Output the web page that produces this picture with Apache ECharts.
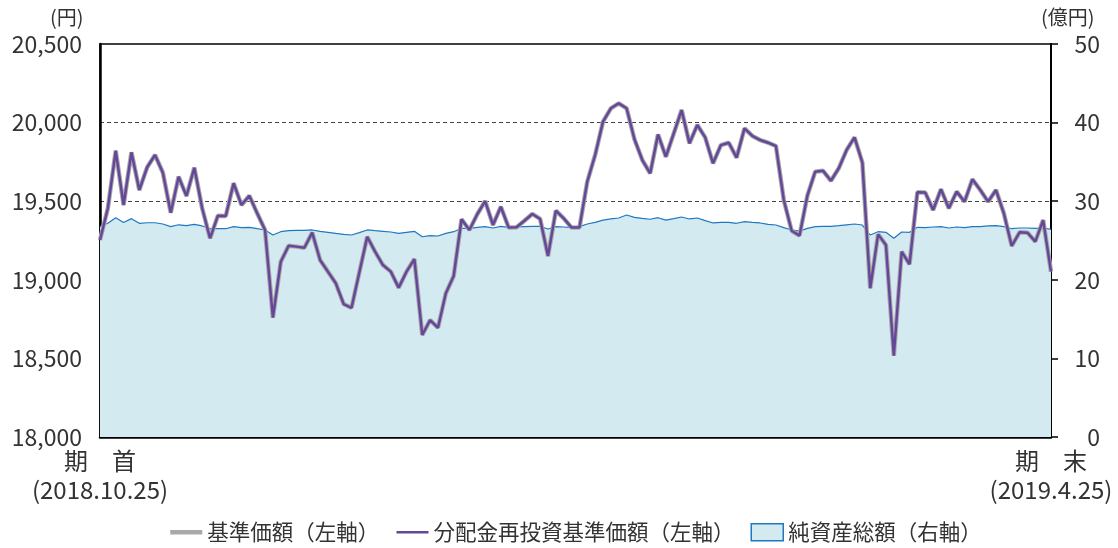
<!DOCTYPE html>
<html>
<head>
<meta charset="utf-8">
<script src="https://cdn.jsdelivr.net/npm/echarts@6/dist/echarts.min.js"></script>
<style>
  html, body { margin: 0; padding: 0; background: #fff; }
  #chart { width: 1118px; height: 548px; }
</style>
</head>
<body>
<div id="chart"></div>
<script>
// 分配金再投資基準価額（円）— 基準価額は分配なしのため同じ値
const navReinvested = [
  19253, 19455, 19821, 19476, 19811, 19571, 19716, 19794, 19681, 19427,
  19656, 19533, 19713, 19455, 19264, 19408, 19406, 19614, 19476, 19535,
  19423, 19317, 18759, 19115, 19217, 19211, 19204, 19300, 19126, 19052,
  18978, 18846, 18822, 19048, 19274, 19179, 19094, 19052, 18950, 19052,
  19132, 18649, 18744, 18695, 18914, 19024, 19385, 19317, 19417, 19501,
  19349, 19465, 19332, 19334, 19376, 19419, 19387, 19151, 19440, 19391,
  19332, 19332, 19625, 19794, 20006, 20091, 20122, 20091, 19894, 19762,
  19677, 19925, 19783, 19931, 20080, 19868, 19985, 19906, 19741, 19857,
  19872, 19777, 19963, 19915, 19889, 19872, 19851, 19508, 19312, 19281,
  19535, 19688, 19693, 19630, 19710, 19826, 19906, 19745, 18946, 19289,
  19221, 18517, 19179, 19099, 19557, 19555, 19444, 19576, 19455, 19561,
  19497, 19639, 19571, 19497, 19571, 19423, 19215, 19302, 19300, 19243,
  19380, 19052
];
const nav = navReinvested.slice();

// 純資産総額（億円）
const netAssets = [
  26.76, 27.19, 27.9, 27.3, 27.78, 27.19, 27.26, 27.26, 27.1, 26.76,
  27.0, 26.9, 27.06, 26.85, 26.5, 26.5, 26.5, 26.76, 26.63, 26.68,
  26.5, 26.34, 25.7, 26.12, 26.25, 26.3, 26.3, 26.34, 26.17, 26.04,
  25.9, 25.79, 25.7, 26.0, 26.34, 26.25, 26.17, 26.08, 25.9, 26.04,
  26.17, 25.48, 25.61, 25.57, 25.9, 26.12, 26.55, 26.55, 26.68, 26.76,
  26.59, 26.8, 26.68, 26.72, 26.76, 26.8, 26.8, 26.46, 26.76, 26.72,
  26.63, 26.76, 27.1, 27.3, 27.6, 27.74, 27.86, 28.24, 27.95, 27.82,
  27.7, 27.9, 27.6, 27.78, 27.99, 27.74, 27.86, 27.52, 27.23, 27.3,
  27.3, 27.19, 27.4, 27.3, 27.23, 27.06, 26.97, 26.63, 26.34, 26.2,
  26.55, 26.76, 26.8, 26.8, 26.89, 27.0, 27.1, 26.97, 25.7, 26.12,
  26.04, 25.28, 26.08, 26.04, 26.68, 26.63, 26.72, 26.76, 26.59, 26.72,
  26.63, 26.76, 26.76, 26.85, 26.89, 26.76, 26.5, 26.59, 26.59, 26.55,
  26.59, 26.42
];

const days = navReinvested.map((v, i) => i);
const startLabel = '期　首\n(2018.10.25)';
const endLabel = '期　末\n(2019.4.25)';
const seriesNames = ['基準価額（左軸）', '分配金再投資基準価額（左軸）', '純資産総額（右軸）'];

const font = '"Noto Sans CJK JP", "Noto Sans", sans-serif';
const textColor = '#333';
const grayColor = '#a9a9a9';
const purpleColor = '#65479a';
// 凡例の線だけを見せるため、記号は透明にする
const hiddenSymbol = { color: 'rgba(0,0,0,0)', borderWidth: 0 };

let myChart = echarts.init(document.getElementById('chart'));
let option = {
  animation: false,
  textStyle: { fontFamily: font },
  grid: {
    left: 100, right: 67, top: 44, bottom: 111,
    show: true, borderColor: '#000', borderWidth: 1.5
  },
  graphic: [
    { type: 'text', left: 50, top: 7, style: { text: '(円)', fontSize: 20, fill: textColor, fontFamily: font } },
    { type: 'text', left: 1041, top: 7, style: { text: '(億円)', fontSize: 20, fill: textColor, fontFamily: font } }
  ],
  legend: {
    bottom: 0,
    left: 163,
    itemWidth: 32,
    itemHeight: 17,
    itemGap: 16,
    textStyle: { fontSize: 21.5, color: textColor, fontFamily: font },
    data: [
      { name: seriesNames[0], itemStyle: hiddenSymbol, lineStyle: { color: grayColor, width: 4.5 } },
      { name: seriesNames[1], itemStyle: hiddenSymbol, lineStyle: { color: purpleColor, width: 2.5 } },
      { name: seriesNames[2], icon: 'rect', itemStyle: { color: '#d4eaf1', borderColor: '#1f78c1', borderWidth: 1.5 } }
    ]
  },
  xAxis: {
    type: 'category',
    data: days,
    boundaryGap: false,
    axisLine: { lineStyle: { color: '#000', width: 2.5 } },
    axisTick: { show: false },
    axisLabel: {
      interval: (i) => i === 0 || i === days.length - 1,
      formatter: (v, i) => (i === 0 ? startLabel : endLabel),
      color: textColor,
      fontSize: 24,
      lineHeight: 29,
      margin: 9,
      showMinLabel: true,
      showMaxLabel: true
    },
    splitLine: { show: false }
  },
  yAxis: [
    {
      type: 'value',
      min: 18000, max: 20500, interval: 500,
      axisLine: { show: true, lineStyle: { color: '#000', width: 2.5 } },
      axisTick: { show: false },
      axisLabel: {
        color: textColor, fontSize: 23, margin: 18,
        formatter: (v) => v.toLocaleString('en-US')
      },
      splitLine: { show: true, lineStyle: { color: '#444', type: [4, 3], width: 1 } }
    },
    {
      type: 'value',
      min: 0, max: 50, interval: 10,
      position: 'right',
      axisLine: { show: true, lineStyle: { color: '#000', width: 2 } },
      axisTick: { show: true, inside: false, length: 7, lineStyle: { color: '#000', width: 1.5 } },
      axisLabel: { color: textColor, fontSize: 23, margin: 49, align: 'right' },
      splitLine: { show: false }
    }
  ],
  series: [
    {
      name: seriesNames[2],
      type: 'line',
      yAxisIndex: 1,
      data: netAssets,
      symbol: 'none',
      lineStyle: { color: '#1f78c1', width: 1.2 },
      itemStyle: { color: '#d4eaf1' },
      areaStyle: { color: '#d4eaf1', opacity: 1 },
      z: 1
    },
    {
      name: seriesNames[0],
      type: 'line',
      data: nav,
      symbol: 'none',
      lineStyle: { color: grayColor, width: 4.5 },
      itemStyle: { color: grayColor },
      z: 2
    },
    {
      name: seriesNames[1],
      type: 'line',
      data: navReinvested,
      symbol: 'none',
      lineStyle: { color: purpleColor, width: 2.5 },
      itemStyle: { color: purpleColor },
      z: 3
    }
  ]
};
myChart.setOption(option);
</script>
</body>
</html>
